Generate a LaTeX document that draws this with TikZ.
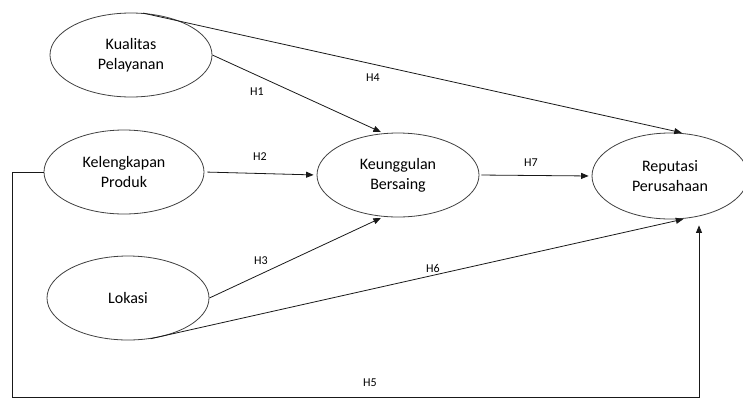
\documentclass[tikz,border=0pt]{standalone}
\usepackage{fontspec}
\setmainfont{Carlito}
\usepackage{tikz}
\usetikzlibrary{arrows.meta,positioning,shapes.geometric}

\begin{document}
\begin{tikzpicture}[x=1pt,y=-1pt,>={Triangle[length=7.5pt,width=6pt]},
  var/.style={draw=black!75,line width=0.8pt,ellipse,minimum width=162pt,minimum height=84pt,inner sep=0pt,align=center,font=\fontsize{16}{20}\selectfont},
  hyp/.style={font=\fontsize{12}{14}\selectfont},
  link/.style={->,draw=black!90,line width=0.8pt,shorten >=3pt}]
\useasboundingbox (0,0) rectangle (743,397);
\node[var] (kual) at (131,55) {Kualitas\\Pelayanan};
\node[var,minimum width=160pt] (kel) at (124,172) {Kelengkapan\\Produk};
\node[var] (lok) at (128,298) {Lokasi};
\node[var] (keun) at (398,175) {Keunggulan\\Bersaing};
\node[var,minimum width=156pt,minimum height=86pt] (rep) at (670,176) {Reputasi\\Perusahaan};
\coordinate (c1) at (12.5,397.1);
\coordinate (c2) at (699,397.1);
\draw[link] (kual.east) -- (keun.109);
\draw[link,shorten <=3pt] (kel.east) -- (keun.west);
\draw[link] (lok.east) -- (keun.251);
\draw[link] (kual.74) -- (rep.71);
\draw[link] (lok.299) -- (rep.291);
\draw[link,shorten <=2pt] (keun.east) -- (rep.west);
\draw[link,shorten >=6pt] (kel.west) -| (c1) -- (c2) -- (rep.south -| c2);
\node[hyp] (h1) at (257,92) {H1};
\node[hyp] (h2) at (260,157) {H2};
\node[hyp] (h3) at (261,261) {H3};
\node[hyp] (h4) at (373,78) {H4};
\node[hyp] (h5) at (370,383) {H5};
\node[hyp] (h6) at (433,268) {H6};
\node[hyp] (h7) at (531,163) {H7};
\end{tikzpicture}
\end{document}
